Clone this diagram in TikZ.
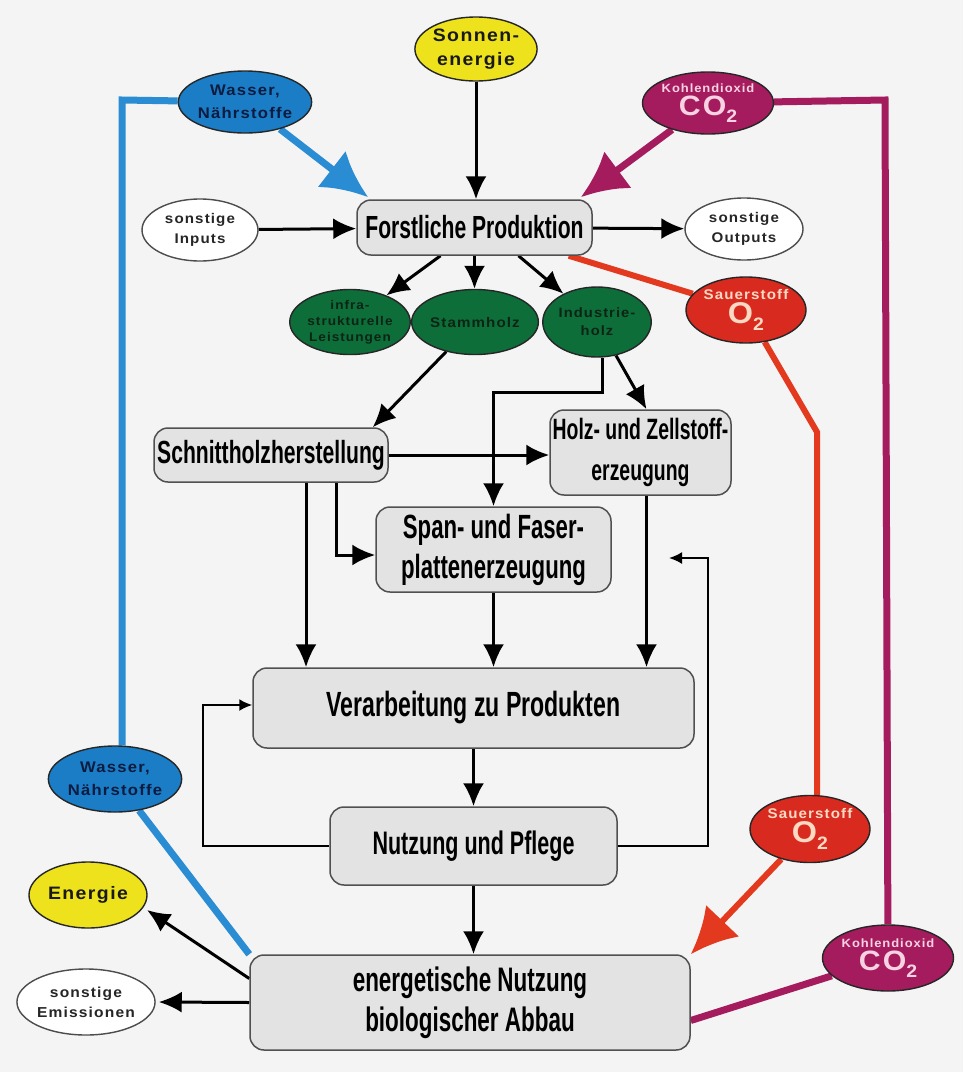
\documentclass[tikz,border=0pt]{standalone}
\usepackage{fontspec}
\usetikzlibrary{shapes.geometric,arrows.meta}
\newfontfamily\condfont[FakeStretch=0.66]{Liberation Sans}
\newfontfamily\widefont[FakeStretch=1.08,LetterSpace=8]{Liberation Sans}
\definecolor{bgc}{HTML}{F4F4F4}
\definecolor{boxfill}{HTML}{E3E3E3}
\definecolor{boxdraw}{HTML}{505050}
\definecolor{yel}{HTML}{EDE21B}
\definecolor{bluef}{HTML}{1A7DC6}
\definecolor{bluel}{HTML}{2A8CD2}
\definecolor{maroon}{HTML}{A51C5E}
\definecolor{redf}{HTML}{D92A20}
\definecolor{redl}{HTML}{E2391F}
\definecolor{greenf}{HTML}{0E6E3A}
\definecolor{pinkt}{HTML}{F7D2E2}
\definecolor{peacht}{HTML}{FCD9C2}
\definecolor{navyt}{HTML}{0C1C40}
\definecolor{greent}{HTML}{0B2414}
\pgfdeclarelayer{back}
\pgfdeclarelayer{lines}
\pgfsetlayers{back,lines,main}
\newcommand{\sub}[1]{\raisebox{-0.45ex}{\fontsize{9}{9}\selectfont #1}}
\begin{document}
\begin{tikzpicture}[x=0.5pt,y=-0.5pt,
  box/.style={draw=boxdraw, line width=0.75pt, rounded corners=7pt, fill=boxfill,
    font=\condfont\bfseries, align=center, inner sep=0pt},
  ell/.style={ellipse, draw=black!85, line width=0.7pt, inner sep=0pt, align=center,
    font=\widefont\bfseries},
  wellip/.style={ell, fill=white, draw=black!70, text=black!85},
  arr/.style={line width=1.5pt, -{Latex[length=11.5pt,width=10.5pt]}},
  thinarr/.style={line width=1pt, -{Latex[length=6.5pt,width=6pt]}},
  bigarr/.style={line width=3.5pt, -{Latex[length=23pt,width=23pt]}},
  bluecon/.style={line width=3.5pt, draw=bluel},
  redcon/.style={line width=3pt, draw=redl},
  marcon/.style={line width=3.5pt, draw=maroon}
]
\begin{pgfonlayer}{back}
\fill[bgc] (0,0) rectangle (963,1072);
\end{pgfonlayer}

% boxes
\node[box, minimum width=117.5pt, minimum height=27.5pt, font=\condfont\bfseries\fontsize{16}{19}\selectfont] (forst) at (474.5,227.5) {Forstliche Produktion};
\node[box, minimum width=117pt, minimum height=27pt, font=\condfont\bfseries\fontsize{16}{19}\selectfont] (schnitt) at (271,455) {Schnittholzherstellung};
\node[box, minimum width=90.5pt, minimum height=42.5pt, font=\condfont\bfseries\fontsize{14.7}{20.5}\selectfont] (holz) at (640.5,452.5) {Holz- und Zellstoff-\\erzeugung};
\node[box, minimum width=117.5pt, minimum height=42.5pt, font=\condfont\bfseries\fontsize{16.8}{20}\selectfont] (span) at (493.5,549.5) {Span- und Faser-\\plattenerzeugung};
\node[box, minimum width=220.5pt, minimum height=40pt, font=\condfont\bfseries\fontsize{17.5}{20}\selectfont] (verarb) at (473.5,708) {Verarbeitung zu Produkten};
\node[box, minimum width=143.5pt, minimum height=39pt, font=\condfont\bfseries\fontsize{16.3}{20}\selectfont] (nutz) at (473.5,846) {Nutzung und Pflege};
\node[box, minimum width=220pt, minimum height=47.5pt, font=\condfont\bfseries\fontsize{17}{20}\selectfont] (energ) at (470,1002.5) {energetische Nutzung\\biologischer Abbau};

% ellipses
\node[ell, fill=yel, minimum width=59pt, minimum height=32pt, text=black!90, font=\widefont\bfseries\fontsize{9}{12}\selectfont] (sonne) at (476,49) {Sonnen-\\energie};
\node[ell, fill=bluef, minimum width=58pt, minimum height=31pt, text=navyt, font=\widefont\bfseries\fontsize{7.7}{11.5}\selectfont] (wt) at (245,102) {Wasser,\\Nährstoffe};
\node[ell, fill=maroon, minimum width=59.5pt, minimum height=31pt, text=pinkt, font=\widefont\bfseries\fontsize{6}{7}\selectfont] (co2t) at (708,103) {Kohlendioxid\\[0.5pt]{\fontsize{14}{14}\selectfont CO\sub{2}}};
\node[wellip, minimum width=58pt, minimum height=31pt, font=\widefont\bfseries\fontsize{7}{10}\selectfont] (inputs) at (200,230) {sonstige\\Inputs};
\node[wellip, minimum width=59pt, minimum height=31pt, font=\widefont\bfseries\fontsize{7}{10}\selectfont] (outputs) at (744,229) {sonstige\\Outputs};
\node[ell, fill=greenf, minimum width=58pt, minimum height=32.5pt, text=greent, font=\widefont\bfseries\fontsize{6.3}{8}\selectfont] (infra) at (350,322) {infra-\\strukturelle\\Leistungen};
\node[ell, fill=greenf, minimum width=58pt, minimum height=32.5pt, text=greent, font=\widefont\bfseries\fontsize{7}{9}\selectfont] (stamm) at (475,322) {Stammholz};
\node[ell, fill=greenf, minimum width=52pt, minimum height=35pt, text=greent, font=\widefont\bfseries\fontsize{6.8}{9}\selectfont] (indus) at (597,322) {Industrie-\\holz};
\node[ell, fill=redf, minimum width=59pt, minimum height=33pt, text=peacht, font=\widefont\bfseries\fontsize{7}{8}\selectfont] (o2t) at (746,310) {Sauerstoff\\[0.5pt]{\fontsize{15}{15}\selectfont O\sub{2}}};
\node[ell, fill=bluef, minimum width=60pt, minimum height=33pt, text=navyt, font=\widefont\bfseries\fontsize{7.7}{11.5}\selectfont] (wb) at (115,779) {Wasser,\\Nährstoffe};
\node[ell, fill=redf, minimum width=58pt, minimum height=33.5pt, text=peacht, font=\widefont\bfseries\fontsize{7}{8}\selectfont] (o2b) at (810,829) {Sauerstoff\\[0.5pt]{\fontsize{15}{15}\selectfont O\sub{2}}};
\node[ell, fill=maroon, minimum width=60pt, minimum height=33pt, text=pinkt, font=\widefont\bfseries\fontsize{6}{7}\selectfont] (co2b) at (888,958) {Kohlendioxid\\[0.5pt]{\fontsize{14}{14}\selectfont CO\sub{2}}};
\node[ell, fill=yel, minimum width=59pt, minimum height=33pt, text=black!90, font=\widefont\bfseries\fontsize{9}{12}\selectfont] (energie) at (88,895) {Energie};
\node[wellip, minimum width=57.5pt, minimum height=33pt, font=\widefont\bfseries\fontsize{7.2}{10}\selectfont] (emis) at (86,1002) {sonstige\\Emissionen};

% helper coordinates
\coordinate (bcorner) at (122,100);
\coordinate (mcorner) at (885,100);
\coordinate (rbend) at (817,432);
\coordinate (ib) at (602,392);
\coordinate (sb) at (336,555);
\coordinate (x306) at (306,0);
\coordinate (lt) at (203,705);
\coordinate (rt) at (708,558);
\coordinate (rtip) at (669,558);
\coordinate (etip) at (147,910);

\begin{pgfonlayer}{lines}
% colored connectors
\draw[bluecon] (wt) -- (bcorner) -- (bcorner |- wb.north);
\draw[bluecon] (wb) -- (energ.north west);
\draw[bluecon, bigarr, draw=bluel] (wt) -- ([xshift=6pt,yshift=1pt]forst.north west);
\draw[marcon, bigarr, draw=maroon] (co2t) -- ([xshift=-6pt,yshift=1pt]forst.north east);
\draw[marcon] (co2b) -- (mcorner) -- (co2t);
\draw[marcon] ([yshift=-9pt]energ.east) -- (co2b);
\draw[redcon] ([xshift=-12pt]forst.south east) -- (o2t);
\draw[redcon] (o2t) -- (rbend) -- (rbend |- o2b.north);
\draw[redcon, bigarr, draw=redl, line width=3pt] (o2b) -- (energ.north east);

% black connectors
\draw[arr] (sonne.south) -- (sonne.south |- forst.north);
\draw[arr] (inputs) -- (forst);
\draw[arr] (forst) -- (outputs);
\draw[arr] ([xshift=-17pt]forst.south) -- (infra);
\draw[arr] (forst.south) -- (forst.south |- stamm.north);
\draw[arr] ([xshift=22pt]forst.south) -- (indus);
\draw[arr] (stamm) -- ([xshift=-8pt]schnitt.north east);
\draw[arr] (indus) -- ([xshift=3pt]holz.north);
\draw[arr] (indus.south -| ib) -- (ib) -- (ib -| span.north) -- (span.north);
\draw[arr] (schnitt.east) -- (schnitt.east -| holz.west);
\draw[arr] (schnitt.south -| sb) -- (sb) -- (sb -| span.west);
\draw[arr] (schnitt.south -| x306) -- (verarb.north -| x306);
\draw[arr] (span.south) -- (span.south |- verarb.north);
\draw[arr] ([xshift=3pt]holz.south) -- ([xshift=3pt]holz.south |- verarb.north);
\draw[arr] (verarb.south) -- (verarb.south |- nutz.north);
\draw[thinarr] (nutz.west) -- (nutz.west -| lt) -- (lt) -- (lt -| verarb.west);
\draw[thinarr] (nutz.east) -- (nutz.east -| rt) -- (rt) -- (rtip);
\draw[arr] (nutz.south) -- (nutz.south |- energ.north);
\draw[arr] ([yshift=12pt]energ.west) -- (etip);
\draw[arr] (energ.west) -- ([xshift=1.5pt]emis.east);
\end{pgfonlayer}
\end{tikzpicture}
\end{document}
